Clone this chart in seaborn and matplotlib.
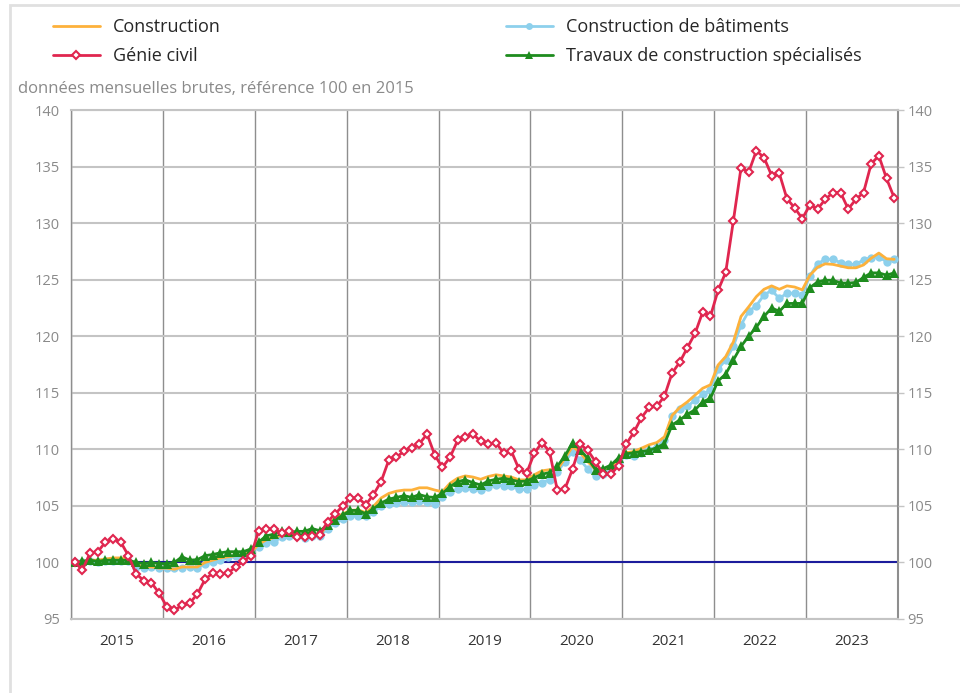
import numpy as np
import pandas as pd
import matplotlib.pyplot as plt
import seaborn as sns
from matplotlib.lines import Line2D
from matplotlib.patches import Rectangle

# Indices de production, données mensuelles brutes (base 100 en 2015), janv. 2015 -> déc. 2023
years = ["2015", "2016", "2017", "2018", "2019", "2020", "2021", "2022", "2023"]

construction = [
    100.0, 100.1, 100.2, 100.2, 100.3, 100.4, 100.4, 100.3, 99.8, 99.6, 99.6, 99.5,
    99.5, 99.4, 99.6, 99.6, 99.6, 100.0, 100.2, 100.4, 100.5, 100.6, 100.7, 100.9,
    101.6, 102.0, 102.2, 102.4, 102.4, 102.3, 102.3, 102.5, 102.4, 103.4, 103.9, 104.3,
    104.6, 104.65, 104.4, 104.95, 105.7, 106.1, 106.3, 106.4, 106.4, 106.6, 106.6, 106.4,
    106.25, 107.0, 107.45, 107.65, 107.55, 107.35, 107.6, 107.75, 107.65, 107.55, 107.3, 107.3,
    107.75, 108.1, 108.2, 108.2, 109.2, 110.25, 109.7, 108.9, 108.2, 108.2, 108.5, 109.05,
    109.7, 109.8, 110.1, 110.4, 110.6, 111.1, 113.0, 113.7, 114.2, 114.8, 115.4, 115.7,
    117.45, 118.2, 119.5, 121.75, 122.6, 123.5, 124.15, 124.45, 124.15, 124.45, 124.35, 124.1,
    125.4, 126.1, 126.4, 126.35, 126.2, 126.05, 126.05, 126.3, 126.9, 127.35, 126.85, 126.8,
]
genie_civil = [
    100.0, 99.35, 100.85, 100.95, 101.8, 102.1, 101.8, 100.6, 99.0, 98.4, 98.2, 97.3,
    96.1, 95.8, 96.2, 96.4, 97.2, 98.5, 99.05, 99.0, 99.05, 99.6, 100.1, 100.6,
    102.8, 102.95, 102.95, 102.6, 102.8, 102.25, 102.25, 102.3, 102.45, 103.6, 104.3, 105.0,
    105.7, 105.7, 105.1, 106.0, 107.15, 109.05, 109.3, 109.85, 110.15, 110.5, 111.35, 109.5,
    108.4, 109.3, 110.8, 111.1, 111.35, 110.7, 110.45, 110.6, 109.65, 109.85, 108.25, 107.9,
    109.65, 110.6, 109.8, 106.4, 106.5, 108.25, 110.45, 109.9, 108.9, 107.8, 107.8, 108.55,
    110.45, 111.5, 112.8, 113.7, 113.8, 114.7, 116.75, 117.7, 119.0, 120.25, 122.15, 121.75,
    124.05, 125.65, 130.2, 134.9, 134.5, 136.4, 135.8, 134.2, 134.4, 132.15, 131.35, 130.4,
    131.6, 131.25, 132.1, 132.7, 132.7, 131.25, 132.1, 132.7, 135.25, 135.95, 133.95, 132.25,
]
batiments = [
    100.0, 100.0, 100.1, 100.0, 100.1, 100.1, 100.1, 100.1, 99.6, 99.5, 99.6, 99.5,
    99.5, 99.5, 99.55, 99.6, 99.5, 99.9, 100.05, 100.25, 100.45, 100.55, 100.65, 100.95,
    101.4, 101.75, 101.8, 102.25, 102.3, 102.3, 102.2, 102.3, 102.3, 103.0, 103.5, 103.8,
    104.1, 104.1, 104.1, 104.5, 104.95, 105.2, 105.25, 105.3, 105.3, 105.4, 105.3, 105.2,
    105.8, 106.25, 106.45, 106.55, 106.45, 106.4, 106.7, 106.85, 106.75, 106.75, 106.45, 106.45,
    106.85, 107.05, 107.3, 108.0, 108.9, 109.8, 109.05, 108.25, 107.6, 107.8, 108.25, 108.9,
    109.5, 109.4, 109.7, 109.9, 110.25, 110.8, 112.95, 113.6, 113.8, 114.35, 114.85, 115.25,
    117.1, 117.9, 119.1, 121.0, 122.2, 122.7, 123.65, 124.05, 123.35, 123.8, 123.8, 123.65,
    125.35, 126.4, 126.8, 126.8, 126.5, 126.35, 126.35, 126.75, 126.95, 127.0, 126.6, 126.8,
]
specialises = [
    100.0, 100.1, 100.2, 100.1, 100.2, 100.2, 100.2, 100.2, 100.0, 99.9, 100.0, 99.9,
    99.9, 100.0, 100.5, 100.2, 100.25, 100.6, 100.7, 100.85, 100.95, 100.95, 100.95, 101.2,
    101.8, 102.35, 102.5, 102.75, 102.65, 102.75, 102.75, 103.0, 102.8, 103.3, 103.75, 104.2,
    104.6, 104.6, 104.3, 104.75, 105.25, 105.6, 105.75, 105.9, 105.75, 106.0, 105.8, 105.75,
    106.1, 106.7, 107.15, 107.3, 107.05, 106.85, 107.2, 107.35, 107.45, 107.3, 107.15, 107.2,
    107.5, 107.8, 107.95, 108.5, 109.4, 110.6, 109.95, 109.2, 108.2, 108.3, 108.6, 109.25,
    109.6, 109.7, 109.8, 109.9, 110.15, 110.5, 112.15, 112.6, 113.1, 113.5, 114.2, 114.5,
    116.05, 116.65, 117.9, 119.1, 120.0, 120.8, 121.75, 122.5, 122.2, 122.9, 122.9, 122.9,
    124.3, 124.8, 124.95, 124.95, 124.7, 124.7, 124.75, 125.2, 125.6, 125.6, 125.4, 125.6,
]

C_CONS = "#FDB13B"
C_GC = "#E0264F"
C_BAT = "#8DD0EC"
C_SPE = "#1E8C1E"
GRID_H = "#c4c4c4"
GRID_V = "#8e8e8e"
TXT_GREY = "#8a8a8a"

sns.set_style("white")
plt.rcParams["font.family"] = ["Open Sans", "DejaVu Sans"]

n = len(construction)
df = pd.DataFrame({
    "mois": np.arange(n) + 0.5,  # milieu de chaque mois
    "Construction": construction,
    "Génie civil": genie_civil,
    "Construction de bâtiments": batiments,
    "Travaux de construction spécialisés": specialises,
})

fig = plt.figure(figsize=(9.6, 6.93), dpi=100)
ax = fig.add_axes([71 / 960, 1 - 619 / 693, 827 / 960, 509 / 693])

ax.axhline(100, color="#1c1c9c", lw=1.5, zorder=2)

sns.lineplot(data=df, x="mois", y="Construction de bâtiments", ax=ax, color=C_BAT,
             lw=2, marker="o", markersize=6, markeredgewidth=0, zorder=3)
sns.lineplot(data=df, x="mois", y="Construction", ax=ax, color=C_CONS, lw=2, zorder=4)
sns.lineplot(data=df, x="mois", y="Travaux de construction spécialisés", ax=ax, color=C_SPE,
             lw=2, marker="^", markersize=7, markeredgewidth=0, zorder=5)
sns.lineplot(data=df, x="mois", y="Génie civil", ax=ax, color=C_GC, lw=2, marker="D",
             markersize=4.3, markerfacecolor="white", markeredgecolor=C_GC,
             markeredgewidth=1.5, zorder=6)

ax.set_xlim(0, n)
ax.set_ylim(95, 140)
ax.set_xlabel("")
ax.set_ylabel("")

# années : traits de séparation (majeurs) et libellés centrés (mineurs)
ax.set_xticks(np.arange(0, n + 1, 12))
ax.set_xticklabels([])
ax.set_xticks(np.arange(6, n, 12), minor=True)
ax.set_xticklabels(years, minor=True)
ax.tick_params(axis="x", which="major", length=21.5, width=1, color=GRID_V, direction="out")
ax.tick_params(axis="x", which="minor", length=0, pad=11, labelsize=11, labelcolor="#333333")

yt = np.arange(95, 141, 5)
ax.set_yticks(yt)
ax.set_yticklabels([str(v) for v in yt])
ax.tick_params(axis="y", length=0, pad=8, labelsize=10.5, labelcolor=TXT_GREY)

ax.grid(False)
ax.yaxis.grid(True, color=GRID_H, lw=1.5, zorder=1)
ax.xaxis.grid(True, which="major", color=GRID_V, lw=1, zorder=1)

for side in ["top", "bottom"]:
    ax.spines[side].set_color(GRID_H)
    ax.spines[side].set_linewidth(1.5)
ax.spines["left"].set_color(GRID_V)
ax.spines["left"].set_linewidth(1)
ax.spines["right"].set_color(GRID_V)
ax.spines["right"].set_linewidth(1.5)

ax2 = ax.twinx()
ax2.set_ylim(95, 140)
ax2.set_yticks(yt)
ax2.set_yticklabels([str(v) for v in yt])
ax2.tick_params(axis="y", length=4, width=1, color=GRID_H, pad=3,
                labelsize=10.5, labelcolor=TXT_GREY)
for side in ax2.spines:
    ax2.spines[side].set_visible(False)

# légende en deux colonnes
h_cons = Line2D([], [], color=C_CONS, lw=2)
h_gc = Line2D([], [], color=C_GC, lw=2, marker="D", markersize=4,
              markerfacecolor="white", markeredgecolor=C_GC, markeredgewidth=1.5)
h_bat = Line2D([], [], color=C_BAT, lw=2, marker="o", markersize=5, markeredgewidth=0)
h_spe = Line2D([], [], color=C_SPE, lw=2, marker="^", markersize=6, markeredgewidth=0)

leg_kw = dict(loc="upper left", frameon=False, fontsize=13, handlelength=2.6,
              handletextpad=0.72, labelspacing=0.62, borderpad=0, borderaxespad=0,
              numpoints=1)
leg1 = fig.legend([h_cons, h_gc], ["Construction", "Génie civil"],
                  bbox_to_anchor=(53 / 960, 1 - 18 / 693), **leg_kw)
leg2 = fig.legend([h_bat, h_spe], ["Construction de bâtiments",
                                   "Travaux de construction spécialisés"],
                  bbox_to_anchor=(506 / 960, 1 - 18 / 693), **leg_kw)

fig.text(18 / 960, 1 - 89 / 693, "données mensuelles brutes, référence 100 en 2015",
         va="center", ha="left", fontsize=12, color=TXT_GREY)

# cadre clair autour du graphique
fig.patches.append(Rectangle((10 / 960, -0.1), 1.2, 1.1 - 5 / 693, transform=fig.transFigure,
                             fill=False, ec="#e0e0e0", lw=2))

fig.savefig("out.png", dpi=100)
